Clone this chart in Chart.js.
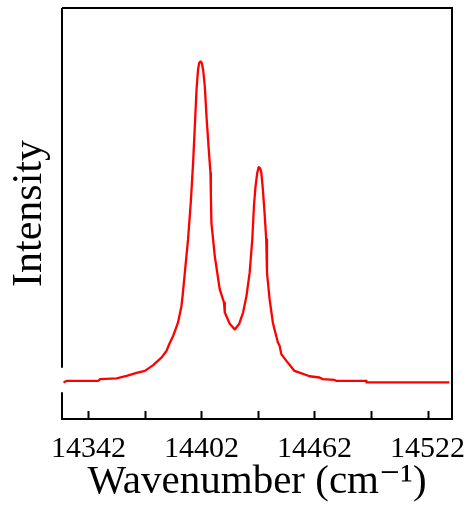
<!DOCTYPE html>
<html>
<head>
<meta charset="utf-8">
<script src="https://cdn.jsdelivr.net/npm/chart.js@4.4.1/dist/chart.umd.min.js"></script>
<style>
  html, body { margin: 0; padding: 0; background: #fff; }
  #wrap { width: 475px; height: 507px; }
</style>
</head>
<body>
<div id="wrap"><canvas id="spectrum"></canvas></div>
<script>
// Spectrum (intensity in arbitrary units, 0-100)
var wavenumber = [
    14328.8, 14330.6, 14347.3, 14348.2, 14357.0, 14362.3, 14367.6, 14372.0,
    14376.4, 14380.9, 14383.5, 14385.0, 14387.0, 14389.6, 14391.4, 14392.0,
    14393.2, 14394.9, 14396.4, 14397.6, 14398.5, 14399.4, 14400.2, 14400.8,
    14401.5, 14402.2, 14402.9, 14403.8, 14404.7, 14405.9, 14406.8, 14407.0,
    14407.3, 14409.1, 14411.7, 14414.0, 14414.4, 14417.1, 14419.7, 14422.0,
    14424.1, 14425.9, 14427.6, 14429.0, 14429.9, 14430.7, 14431.6, 14432.4,
    14433.2, 14433.8, 14434.6, 14435.5, 14436.4, 14436.8, 14438.2, 14439.9,
    14440.8, 14442.6, 14443.5, 14444.4, 14447.0, 14451.4, 14454.1, 14459.4,
    14464.7, 14466.4, 14472.6, 14473.5, 14489.4, 14489.6, 14533.6
];
var intensity = [
    8.9, 9.3, 9.3, 9.7, 9.9, 10.5, 11.2, 11.7,
    13.1, 15.0, 16.6, 18.3, 20.2, 23.5, 27.5, 29.9,
    35.6, 43.7, 53.0, 62.5, 71.2, 80.1, 85.0, 86.6,
    87.0, 86.6, 85.0, 80.9, 73.6, 65.5, 59.9, 55.0,
    47.7, 39.6, 31.6, 28.3, 25.9, 23.1, 21.8, 23.1,
    25.9, 29.9, 35.6, 43.7, 52.0, 56.5, 59.8, 61.3,
    61.0, 59.9, 56.0, 50.2, 43.7, 35.6, 29.1, 23.5,
    21.8, 18.6, 17.8, 15.8, 14.2, 11.7, 11.3, 10.4,
    10.1, 9.7, 9.5, 9.3, 9.3, 8.9, 8.9
];

// Axis ticks
var tickValues = [14342, 14372, 14402, 14432, 14462, 14492, 14522];
var tickLabels = [14342, 14402, 14462, 14522];

var serif = "'Liberation Serif', 'DejaVu Serif', serif";

// Frame round the plot, with inward tick marks
var frame = {
    id: 'frame',
    afterDatasetsDraw: function (chart) {
        var c = chart.ctx;
        var a = chart.chartArea;
        var xs = chart.scales.x;
        var ys = chart.scales.y;
        c.save();
        c.strokeStyle = '#000';
        c.lineWidth = 2;
        c.beginPath();
        // top, right, bottom
        c.moveTo(a.left, a.top);
        c.lineTo(a.right, a.top);
        c.lineTo(a.right, a.bottom);
        c.lineTo(a.left, a.bottom);
        // left side has a gap where the trace meets it
        c.lineTo(a.left, ys.getPixelForValue(6.5));
        c.moveTo(a.left, ys.getPixelForValue(12.5));
        c.lineTo(a.left, a.top);
        c.stroke();

        // tick marks pointing into the plot
        c.beginPath();
        xs.ticks.forEach(function (t) {
            var px = Math.round(xs.getPixelForValue(t.value)) + 0.5;
            c.moveTo(px, a.bottom);
            c.lineTo(px, a.bottom - 8);
        });
        c.stroke();
        c.restore();
    }
};

var points = wavenumber.map(function (w, i) {
    return { x: w, y: intensity[i] };
});

var chart = new Chart(document.getElementById('spectrum'), {
    type: 'line',
    data: {
        datasets: [
            {
                label: 'Intensity',
                data: points,
                borderColor: '#ff0000',
                borderWidth: 2.3,
                borderJoinStyle: 'round',
                pointRadius: 0,
                fill: false,
                tension: 0
            }
        ]
    },
    options: {
        responsive: true,
        maintainAspectRatio: false,
        animation: false,
        layout: { padding: { top: 8, right: 23, left: 0, bottom: 0 } },
        plugins: {
            legend: { display: false },
            tooltip: { enabled: false }
        },
        scales: {
            x: {
                type: 'linear',
                min: 14328,
                max: 14535,
                grid: { display: false },
                border: { display: false },
                afterBuildTicks: function (scale) {
                    scale.ticks = tickValues.map(function (v) { return { value: v }; });
                },
                afterFit: function (scale) { scale.height = 88; },
                ticks: {
                    autoSkip: false,
                    maxRotation: 0,
                    padding: 4,
                    color: '#000',
                    font: { family: serif, size: 30 },
                    callback: function (v) {
                        return tickLabels.indexOf(v) >= 0 ? String(v) : '';
                    }
                },
                title: {
                    display: true,
                    text: 'Wavenumber (cm\u207B\u00B9)',
                    color: '#000',
                    font: { family: serif, size: 41, lineHeight: 1.2 },
                    padding: { top: 0, bottom: 0 }
                }
            },
            y: {
                min: 0,
                max: 100,
                grid: { display: false },
                border: { display: false },
                ticks: { display: false },
                afterFit: function (scale) { scale.width = 62; },
                title: {
                    display: true,
                    text: 'Intensity',
                    color: '#000',
                    font: { family: serif, size: 42, lineHeight: 1.2 },
                    padding: { top: 5, bottom: 0 }
                }
            }
        }
    },
    plugins: [frame]
});
</script>
</body>
</html>
